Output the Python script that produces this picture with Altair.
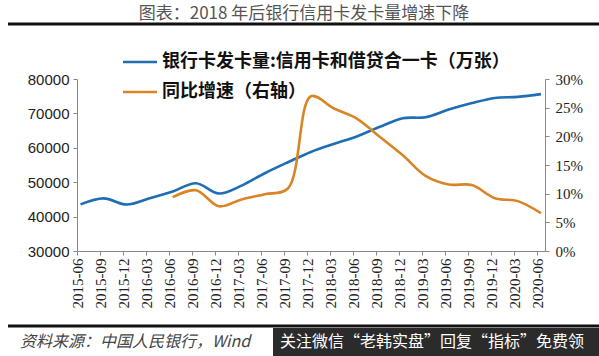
import altair as alt
import pandas as pd

quarters = ["2015-06", "2015-09", "2015-12", "2016-03", "2016-06", "2016-09", "2016-12",
            "2017-03", "2017-06", "2017-09", "2017-12", "2018-03", "2018-06", "2018-09",
            "2018-12", "2019-03", "2019-06", "2019-09", "2019-12", "2020-03", "2020-06"]
cards = [43560, 45300, 43500, 45300, 47300, 49700, 46700,
         49000, 52600, 55800, 58800, 61100, 63300, 66100,
         68600, 68900, 71100, 73000, 74500, 74800, 75600]
yoy_quarters = quarters[4:]
yoy_pct = [9.4, 10.6, 7.8, 9.0, 9.9, 10.9, 27.0, 24.9, 23.1, 19.9,
           16.7, 13.1, 11.6, 11.5, 9.2, 8.7, 6.6]

left_ticks = [30000, 40000, 50000, 60000, 70000, 80000]
right_ticks = [0, 0.05, 0.10, 0.15, 0.20, 0.25, 0.30]

title_text = "图表：2018 年后银行信用卡发卡量增速下降"
legend_cards = "银行卡发卡量:信用卡和借贷合一卡（万张）"
legend_yoy = "同比增速（右轴）"
source_text = "资料来源：中国人民银行，Wind"
watermark_text = "关注微信“老韩实盘”回复“指标”免费领"

BLUE = "#1f6db2"
ORANGE = "#d98427"

df_cards = pd.DataFrame({"date": [q + "-15" for q in quarters], "cards": cards})
df_yoy = pd.DataFrame({"date": [q + "-15" for q in yoy_quarters],
                       "yoy": [v / 100 for v in yoy_pct]})


def dt(q):
    y, m = q.split("-")
    return alt.DateTime(year=int(y), month=int(m), date=1, utc=True)


x_enc = alt.X(
    "date:T",
    title=None,
    scale=alt.Scale(type="utc", domain=[dt("2015-06"), dt("2020-07")]),
    axis=alt.Axis(
        values=[dt(q) for q in quarters],
        labelExpr="utcFormat(datum.value, '%Y-%m')",
        labelAngle=270,
        labelFont="Liberation Serif",
        labelFontSize=15,
        labelColor="#222",
        labelPadding=3,
        tickSize=4,
        tickColor="#888",
        domainColor="#888",
        grid=False,
    ),
)

blue = alt.Chart(df_cards).mark_line(
    color=BLUE, strokeWidth=2.6, interpolate="catmull-rom"
).encode(
    x=x_enc,
    y=alt.Y(
        "cards:Q",
        title=None,
        scale=alt.Scale(domain=[30000, 80000], nice=False, zero=False),
        axis=alt.Axis(
            orient="left", values=left_ticks, format="d",
            labelFont="Liberation Sans", labelFontSize=15, labelColor="#222",
            tickSize=4, tickColor="#888", domainColor="#888", grid=False,
            labelPadding=4,
        ),
    ),
)

orange = alt.Chart(df_yoy).mark_line(
    color=ORANGE, strokeWidth=2.6, interpolate="catmull-rom"
).encode(
    x=x_enc,
    y=alt.Y(
        "yoy:Q",
        title=None,
        scale=alt.Scale(domain=[0, 0.30], nice=False),
        axis=alt.Axis(
            orient="right", values=right_ticks, format=".0%",
            labelFont="Liberation Serif", labelFontSize=15, labelColor="#222",
            tickSize=4, tickColor="#888", domainColor="#888", grid=False,
            labelPadding=6,
        ),
    ),
)

one = pd.DataFrame({"k": [0]})


def text(t, x, y, **kw):
    return alt.Chart(one).mark_text(**kw).encode(
        x=alt.value(x), y=alt.value(y), text=alt.value(t)
    )


def hrule(x1, x2, y, color, width):
    return alt.Chart(one).mark_rule(color=color, strokeWidth=width).encode(
        x=alt.value(x1), x2=alt.value(x2), y=alt.value(y)
    )


title_mark = text(title_text, 227, -65, font="Noto Sans CJK SC", fontSize=17,
                  color="#555", align="center", baseline="middle")
top_rule = hrule(-69, 522, -55, "#111", 3)
leg1_line = hrule(46, 80, -17, BLUE, 2.6)
leg2_line = hrule(46, 80, 13, ORANGE, 2.6)
leg1_text = text(legend_cards, 85, -17, font="Noto Sans CJK SC", fontSize=18,
                 fontWeight="bold", color="#111", align="left", baseline="middle")
leg2_text = text(legend_yoy, 85, 13, font="Noto Sans CJK SC", fontSize=18,
                 fontWeight="bold", color="#111", align="left", baseline="middle")
bottom_rule = hrule(-69, 522, 247, "#111", 3)
source_mark = text(source_text, -57, 263, font="Noto Sans CJK SC", fontSize=16,
                   fontStyle="italic", color="#444", align="left", baseline="middle")
wm_box = alt.Chart(one).mark_rect(color="#2b2b2b").encode(
    x=alt.value(196), x2=alt.value(522), y=alt.value(249), y2=alt.value(277)
)
wm_text = text(watermark_text, 203, 263, font="Noto Sans CJK SC", fontSize=16,
               color="#ffffff", align="left", baseline="middle")

chart = alt.layer(
    blue, orange, top_rule, title_mark, leg1_line, leg2_line, leg1_text, leg2_text,
    bottom_rule, source_mark, wm_box, wm_text,
).resolve_scale(y="independent").properties(
    width=468, height=172,
    autosize="none",
    padding={"left": 77, "top": 79, "right": 54, "bottom": 105},
    background="white",
).configure_view(stroke=None)

chart.save("out.html", embed_options={"renderer": "svg", "actions": False})
